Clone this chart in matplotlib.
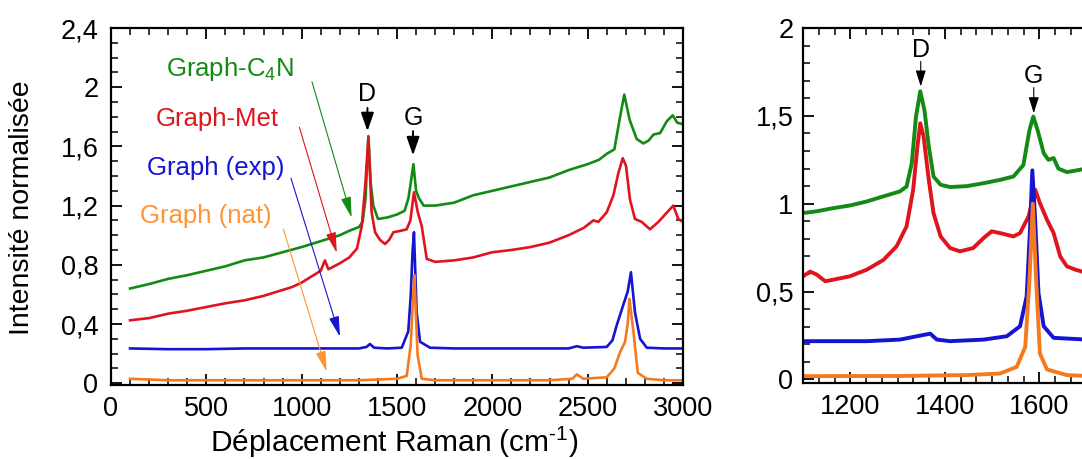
import matplotlib

matplotlib.use("Agg")
import matplotlib.pyplot as plt
from matplotlib.ticker import MultipleLocator, FixedLocator, FuncFormatter

plt.rcParams.update(
    {
        "font.family": ["Liberation Sans", "DejaVu Sans"],
        "mathtext.fontset": "custom",
        "mathtext.rm": "Liberation Sans",
        "mathtext.it": "Liberation Sans",
        "axes.linewidth": 1.6,
        "xtick.direction": "in",
        "ytick.direction": "in",
        "xtick.top": True,
        "ytick.right": True,
        "xtick.major.width": 1.3,
        "ytick.major.width": 1.3,
        "xtick.minor.width": 1.1,
        "ytick.minor.width": 1.1,
        "xtick.major.size": 8,
        "ytick.major.size": 8,
        "xtick.minor.size": 5,
        "ytick.minor.size": 5,
    }
)

GREEN = "#138a13"
RED = "#e0141c"
BLUE = "#1414d2"
ORANGE = "#f57a1f"

# ---- full spectra (left panel) ----
c4n_x = [100, 200, 300, 400, 500, 600, 700, 800, 900, 1000, 1100, 1200, 1250,
         1300, 1320, 1335, 1350, 1362, 1376, 1400, 1450, 1500, 1540, 1560,
         1575, 1586, 1600, 1615, 1640, 1700, 1800, 1900, 2000, 2100, 2200,
         2300, 2400, 2500, 2560, 2600, 2640, 2670, 2692, 2720, 2757, 2792,
         2820, 2845, 2880, 2915, 2946, 2970, 3000]
c4n_y = [0.64, 0.67, 0.705, 0.73, 0.76, 0.79, 0.83, 0.85, 0.885, 0.92, 0.96,
         1.0, 1.03, 1.055, 1.09, 1.25, 1.67, 1.35, 1.2, 1.11, 1.12, 1.14,
         1.165, 1.25, 1.38, 1.48, 1.3, 1.25, 1.2, 1.2, 1.22, 1.27, 1.30, 1.33,
         1.36, 1.39, 1.44, 1.48, 1.51, 1.55, 1.58, 1.80, 1.95, 1.78, 1.65,
         1.62, 1.64, 1.68, 1.69, 1.77, 1.81, 1.76, 1.75]

met_x = [100, 200, 300, 400, 500, 600, 700, 800, 900, 950, 1000, 1050, 1100,
         1122, 1140, 1200, 1250, 1290, 1315, 1332, 1350, 1367, 1385, 1410,
         1437, 1460, 1481, 1520, 1551, 1570, 1589, 1610, 1630, 1656, 1700,
         1800, 1900, 2000, 2100, 2200, 2300, 2400, 2480, 2530, 2556, 2600,
         2635, 2661, 2684, 2701, 2722, 2748, 2783, 2827, 2871, 2906, 2949,
         2975, 3000]
met_y = [0.425, 0.44, 0.47, 0.49, 0.515, 0.54, 0.56, 0.59, 0.63, 0.65, 0.68,
         0.72, 0.76, 0.83, 0.77, 0.81, 0.85, 0.91, 1.06, 1.31, 1.66, 1.155,
         1.02, 0.97, 0.94, 0.97, 1.02, 1.03, 1.04, 1.1, 1.29, 1.15, 1.06,
         0.84, 0.82, 0.83, 0.85, 0.885, 0.90, 0.92, 0.95, 1.0, 1.05, 1.10,
         1.09, 1.155, 1.27, 1.42, 1.52, 1.47, 1.24, 1.11, 1.09, 1.04, 1.09,
         1.14, 1.20, 1.11, 1.09]

exp_x = [100, 300, 500, 700, 900, 1100, 1300, 1340, 1358, 1380, 1450, 1525,
         1559, 1572, 1582, 1589, 1603, 1621, 1673, 1800, 2000, 2200, 2400,
         2443, 2477, 2600, 2630, 2652, 2687, 2710, 2727, 2748, 2775, 2810,
         2900, 3000]
exp_y = [0.235, 0.23, 0.23, 0.235, 0.235, 0.235, 0.235, 0.245, 0.265, 0.24,
         0.235, 0.24, 0.35, 0.59, 0.9, 1.02, 0.48, 0.28, 0.24, 0.235, 0.235,
         0.235, 0.235, 0.25, 0.24, 0.245, 0.29, 0.39, 0.53, 0.62, 0.75, 0.48,
         0.30, 0.24, 0.235, 0.235]

nat_x = [100, 300, 500, 700, 900, 1100, 1300, 1500, 1551, 1572, 1585, 1591,
         1608, 1630, 1700, 1900, 2100, 2300, 2420, 2443, 2477, 2600, 2640,
         2670, 2696, 2710, 2719, 2740, 2763, 2810, 2900, 3000]
nat_y = [0.03, 0.02, 0.02, 0.02, 0.02, 0.02, 0.02, 0.03, 0.05, 0.26, 0.6,
         0.73, 0.19, 0.03, 0.02, 0.02, 0.02, 0.02, 0.03, 0.06, 0.03, 0.04,
         0.1, 0.21, 0.28, 0.4, 0.57, 0.35, 0.07, 0.03, 0.02, 0.02]

# ---- zoom on D / G bands (right panel) ----
c4n_zx = [1100, 1129, 1164, 1199, 1235, 1270, 1305, 1319, 1330, 1339, 1348,
          1357, 1366, 1376, 1391, 1411, 1446, 1482, 1517, 1545, 1566, 1579,
          1587, 1596, 1609, 1619, 1630, 1640, 1658, 1700]
c4n_zy = [0.947, 0.957, 0.975, 0.99, 1.013, 1.042, 1.07, 1.098, 1.23, 1.496,
          1.64, 1.53, 1.326, 1.155, 1.108, 1.095, 1.10, 1.117, 1.136, 1.155,
          1.22, 1.42, 1.496, 1.42, 1.288, 1.25, 1.26, 1.20, 1.18, 1.20]

met_zx = [1100, 1115, 1129, 1147, 1164, 1199, 1235, 1270, 1298, 1319, 1333,
          1342, 1348, 1355, 1366, 1376, 1391, 1411, 1432, 1460, 1482, 1499,
          1517, 1545, 1559, 1577, 1591, 1601, 1616, 1630, 1644, 1658, 1676,
          1700]
met_zy = [0.587, 0.614, 0.597, 0.559, 0.568, 0.587, 0.625, 0.68, 0.758, 0.871,
          1.08, 1.326, 1.458, 1.383, 1.136, 0.947, 0.814, 0.748, 0.729, 0.748,
          0.805, 0.843, 0.833, 0.814, 0.833, 0.928, 1.08, 1.004, 0.909, 0.833,
          0.70, 0.644, 0.625, 0.606]

exp_zx = [1100, 1235, 1305, 1341, 1369, 1383, 1411, 1482, 1531, 1559, 1573,
          1580, 1585, 1591, 1598, 1609, 1630, 1700]
exp_zy = [0.218, 0.218, 0.227, 0.246, 0.261, 0.227, 0.218, 0.227, 0.246,
          0.303, 0.473, 0.852, 1.19, 0.909, 0.492, 0.303, 0.237, 0.227]

nat_zx = [1100, 1305, 1446, 1517, 1552, 1570, 1579, 1586, 1593, 1601, 1616,
          1658, 1700]
nat_zy = [0.019, 0.02, 0.025, 0.034, 0.072, 0.186, 0.568, 1.0, 0.568, 0.148,
          0.057, 0.025, 0.02]

zoom_ticks = [1200, 1400, 1600]


def comma(v, pos):
    return ("%g" % v).replace(".", ",")


fig = plt.figure(figsize=(10.82, 4.59), dpi=100)

# ================= left panel =================
ax = fig.add_axes([111 / 1082, 1 - 385 / 459, 572 / 1082, 357 / 459])
ax.plot(c4n_x, c4n_y, color=GREEN, lw=1.9)
ax.plot(met_x, met_y, color=RED, lw=1.9)
ax.plot(exp_x, exp_y, color=BLUE, lw=1.9)
ax.plot(nat_x, nat_y, color=ORANGE, lw=1.9)
ax.set_xlim(0, 3000)
ax.set_ylim(-0.012, 2.4)
ax.xaxis.set_major_locator(MultipleLocator(500))
ax.xaxis.set_minor_locator(MultipleLocator(100))
ax.yaxis.set_major_locator(MultipleLocator(0.4))
ax.yaxis.set_minor_locator(MultipleLocator(0.1))
ax.yaxis.set_major_formatter(FuncFormatter(comma))
ax.tick_params(which="both", labelsize=19.5)
ax.tick_params(axis="x", pad=8)
ax.tick_params(axis="y", pad=9)
ax.set_xlabel("Déplacement Raman (cm$^{\\text{-1}}$)", fontsize=21.5,
              va="baseline")
ax.set_ylabel("Intensité normalisée", fontsize=20.5)
ax.xaxis.set_label_coords(0.495, -0.188)
ax.yaxis.set_label_coords(-0.133, 0.497)

labels = [
    ("Graph-C$_4$N", GREEN, (624, 2.077), (1054, 2.037), (1262, 1.12)),
    ("Graph-Met", RED, (559, 1.741), (988, 1.73), (1184, 0.881)),
    ("Graph (exp)", BLUE, (551, 1.41), (944, 1.385), (1201, 0.314)),
    ("Graph (nat)", "#ff9433", (497, 1.082), (904, 1.042), (1131, 0.079)),
]
for txt, col, tpos, a0, a1 in labels:
    ax.text(*tpos, txt, color=col, fontsize=18.5, ha="center", va="baseline")
    ax.annotate("", xy=a1, xytext=a0,
                arrowprops=dict(arrowstyle="-|>,head_length=0.9,head_width=0.22",
                                color=col, lw=0.8, shrinkA=0, shrinkB=0,
                                mutation_scale=14))

ax.text(1345, 1.905, "D", fontsize=18, ha="center", va="baseline")
ax.annotate("", xy=(1345, 1.703), xytext=(1345, 1.86),
            arrowprops=dict(arrowstyle="-|>,head_length=0.8,head_width=0.28",
                            color="black", lw=1.4, shrinkA=0, shrinkB=0,
                            mutation_scale=14))
ax.text(1584, 1.748, "G", fontsize=18, ha="center", va="baseline")
ax.annotate("", xy=(1584, 1.54), xytext=(1584, 1.703),
            arrowprops=dict(arrowstyle="-|>,head_length=0.8,head_width=0.28",
                            color="black", lw=1.4, shrinkA=0, shrinkB=0,
                            mutation_scale=14))

# ================= right panel (runs past the figure edge) =================
ax2 = fig.add_axes([803 / 1082, 1 - 383 / 459, 331 / 1082, 355 / 459])
ax2.plot(c4n_zx, c4n_zy, color=GREEN, lw=2.8)
ax2.plot(met_zx, met_zy, color=RED, lw=2.8)
ax2.plot(exp_zx, exp_zy, color=BLUE, lw=2.8)
ax2.plot(nat_zx, nat_zy, color=ORANGE, lw=2.8)
ax2.set_xlim(1100, 1800)
ax2.set_ylim(-0.02, 2)
ax2.xaxis.set_major_locator(FixedLocator(zoom_ticks))
ax2.xaxis.set_minor_locator(MultipleLocator(200 / 6))
ax2.yaxis.set_major_locator(MultipleLocator(0.5))
ax2.yaxis.set_minor_locator(MultipleLocator(0.1))
ax2.yaxis.set_major_formatter(FuncFormatter(comma))
ax2.tick_params(which="both", labelsize=19.5)
ax2.tick_params(axis="x", pad=8)
ax2.tick_params(axis="y", pad=7)

ax2.text(1349, 1.834, "D", fontsize=18, ha="center", va="baseline")
ax2.annotate("", xy=(1349, 1.667), xytext=(1349, 1.81),
             arrowprops=dict(arrowstyle="-|>,head_length=0.7,head_width=0.22",
                             color="black", lw=0.8, shrinkA=0, shrinkB=0,
                             mutation_scale=14))
ax2.text(1588, 1.686, "G", fontsize=18, ha="center", va="baseline")
ax2.annotate("", xy=(1588, 1.515), xytext=(1588, 1.661),
             arrowprops=dict(arrowstyle="-|>,head_length=0.7,head_width=0.22",
                             color="black", lw=0.8, shrinkA=0, shrinkB=0,
                             mutation_scale=14))

fig.savefig("out.png", dpi=100)
